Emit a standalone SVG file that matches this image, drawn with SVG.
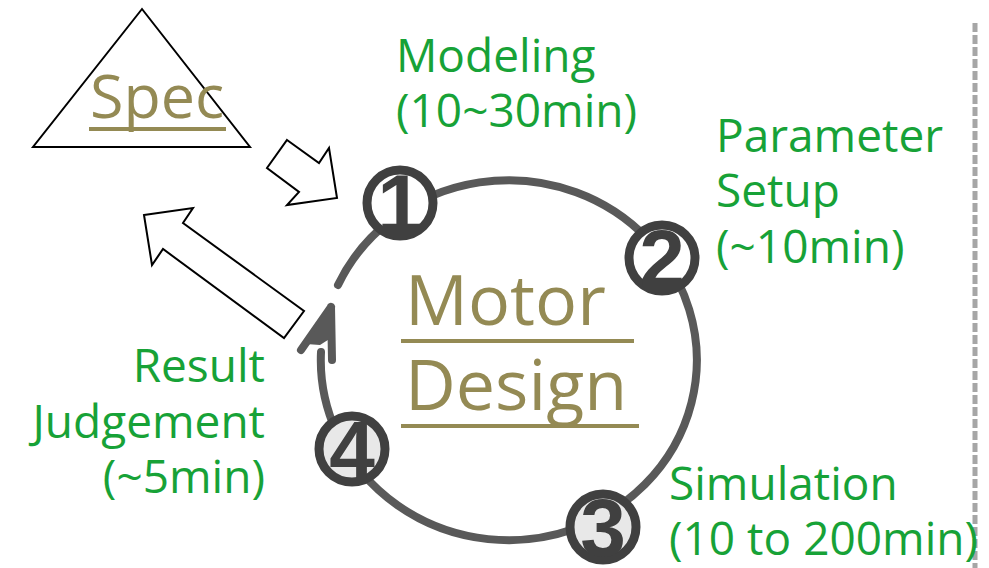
<svg xmlns="http://www.w3.org/2000/svg" width="989" height="568" viewBox="0 0 989 568">
<style>
.lbl{font-family:"Open Sans","Noto Sans","DejaVu Sans",sans-serif;font-size:46px;fill:#17A237}
.olive{font-family:"Open Sans","Noto Sans","DejaVu Sans",sans-serif;fill:#948A54}
.uline{stroke:#948A54;stroke-width:4}
.blk{fill:#fff;stroke:#000;stroke-width:2;stroke-linejoin:miter}
.ring{fill:none;stroke:#595959;stroke-width:8;stroke-linecap:round}
.num circle{stroke:#404040;stroke-width:9}
.num text{font-family:"Liberation Sans","DejaVu Sans",sans-serif;font-weight:bold;font-size:82px;fill:#404040;text-anchor:middle}
</style>
<rect width="989" height="568" fill="#fff"/>
<line x1="975" y1="23" x2="975" y2="568" stroke="#a6a6a6" stroke-width="5" stroke-dasharray="9 3"/>

<g id="spec">
<polygon class="blk" points="142,9 33,147 250,147"/>
<text class="olive" x="90" y="118" font-size="61">Spec</text>
<line class="uline" x1="89" y1="129" x2="226" y2="129"/>
</g>

<g id="connectors">
<polygon class="blk" points="287,140 319,163 329,148 337,198 287,205 299,192 267,168"/>
<polygon class="blk" points="144,215 193,208 183,223 304,311 284,338 163,249 152,265"/>
<path class="ring" d="M338,285 A188,180 0 1 1 321,352"/>
<path d="M331,307 L301,350 M331,307 L332,360" fill="none" stroke="#595959" stroke-width="8" stroke-linecap="round" stroke-linejoin="round"/>
<polygon points="331,307 306,344 320,345 331,338" fill="#595959"/>
</g>

<g id="motor-design">
<text class="olive" x="405" y="325" font-size="70">Motor</text>
<line class="uline" x1="401" y1="341" x2="634" y2="341"/>
<text class="olive" x="405" y="410" font-size="70">Design</text>
<line class="uline" x1="401" y1="426" x2="639" y2="426"/>
</g>

<g id="step1" class="num">
<circle cx="400" cy="203" r="33" fill="#fff"/>
<text x="400" y="232">1</text>
</g>
<g id="step2" class="num">
<circle cx="662" cy="258" r="33" fill="#fff"/>
<text x="662" y="287">2</text>
</g>
<g id="step3" class="num">
<circle cx="603" cy="527" r="33" fill="#e8e8e8"/>
<text x="603" y="556">3</text>
</g>
<g id="step4" class="num">
<circle cx="352" cy="449" r="33" fill="#e8e8e8"/>
<text x="352" y="478">4</text>
</g>

<g id="label-modeling">
<text class="lbl" x="396" y="72">Modeling</text>
<text class="lbl" x="396" y="127">(10~30min)</text>
</g>
<g id="label-parameter">
<text class="lbl" x="716" y="152">Parameter</text>
<text class="lbl" x="716" y="207">Setup</text>
<text class="lbl" x="716" y="263">(~10min)</text>
</g>
<g id="label-result">
<text class="lbl" x="265" y="382" text-anchor="end">Result</text>
<text class="lbl" x="265" y="438" text-anchor="end">Judgement</text>
<text class="lbl" x="265" y="493" text-anchor="end">(~5min)</text>
</g>
<g id="label-simulation">
<text class="lbl" x="669" y="500">Simulation</text>
<text class="lbl" x="669" y="555">(10 to 200min)</text>
</g>
</svg>
